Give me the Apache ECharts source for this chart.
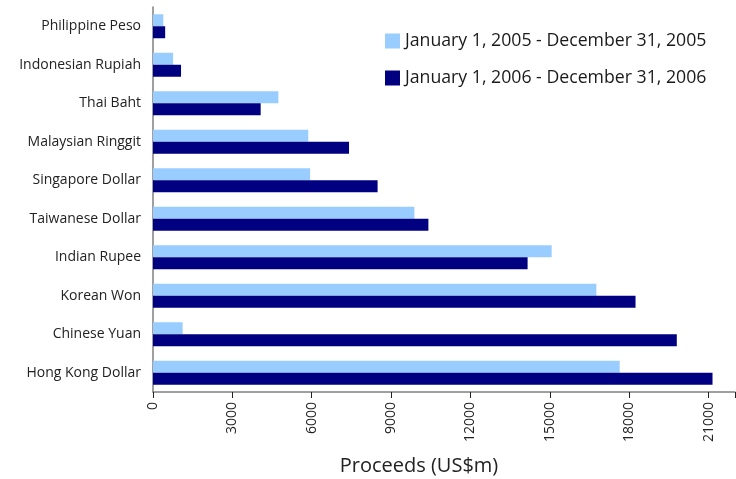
<!DOCTYPE html>
<html>
<head>
<meta charset="utf-8">
<script src="https://cdn.jsdelivr.net/npm/echarts@6/dist/echarts.min.js"></script>
<style>html,body{margin:0;padding:0;background:#fff;}#c{width:736px;height:479px;}</style>
</head>
<body>
<div id="c"></div>
<script>
const categories = ["Philippine Peso","Indonesian Rupiah","Thai Baht","Malaysian Ringgit","Singapore Dollar","Taiwanese Dollar","Indian Rupee","Korean Won","Chinese Yuan","Hong Kong Dollar"];
const seriesNames = ["January 1, 2005 - December 31, 2005","January 1, 2006 - December 31, 2006"];
const values2005 = [390, 760, 4740, 5870, 5940, 9880, 15070, 16760, 1120, 17640];
const values2006 = [460, 1060, 4070, 7410, 8490, 10410, 14160, 18240, 19800, 21150];

const chart = echarts.init(document.getElementById('c'), null, {renderer:'canvas'});
const font = '"Open Sans", sans-serif';
chart.setOption({
  animation:false,
  backgroundColor:'#ffffff',
  textStyle:{fontFamily:font},
  legend:{
    orient:'vertical', left:380, top:27, itemWidth:15, itemHeight:15, itemGap:19,
    icon:'rect',
    textStyle:{fontSize:17.7, color:'#1a1a1a', fontFamily:font},
    data:seriesNames
  },
  grid:{left:153, right:1, top:7, bottom:87, containLabel:false, outerBoundsMode:'none'},
  xAxis:{
    type:'value', min:0, max:22000, interval:3000,
    axisLine:{show:true, lineStyle:{color:'#808080', width:1.5}},
    axisTick:{show:true, length:6, lineStyle:{color:'#222'}},
    splitLine:{show:false},
    axisLabel:{rotate:90, fontSize:14, color:'#222', margin:10, fontFamily:font,
      formatter:function(v){return v<=21000? String(v):'';}},
    name:'Proceeds (US$m)', nameLocation:'middle', nameGap:64,
    nameTextStyle:{fontSize:20, color:'#222', fontFamily:font, padding:[0,50,0,0]}
  },
  yAxis:{
    type:'category', data:categories, inverse:true,
    axisLine:{show:true, lineStyle:{color:'#808080', width:1.5}},
    axisTick:{show:false},
    axisLabel:{fontSize:14, color:'#222', margin:12, fontFamily:font}
  },
  series:[
    {name:seriesNames[0], type:'bar', data:values2005, barWidth:12, barGap:'0%', itemStyle:{color:'#99CCFF'}},
    {name:seriesNames[1], type:'bar', data:values2006, barWidth:12, barGap:'0%', itemStyle:{color:'#000080'}}
  ]
});
</script>
</body>
</html>
